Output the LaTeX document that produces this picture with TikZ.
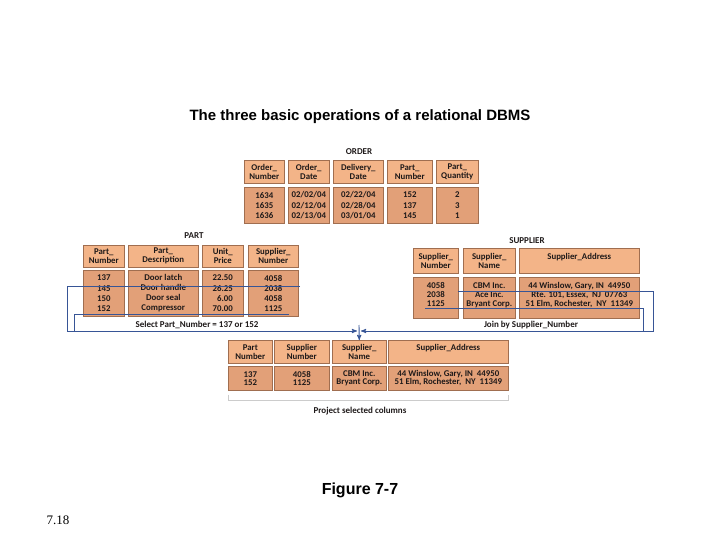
\documentclass[tikz,border=0pt]{standalone}
\usepackage{fontspec}
\setmainfont{Liberation Sans}
\newfontfamily\gillfam{Carlito}
\newfontfamily\timesfam{Liberation Serif}
\usepackage{xcolor}
\usetikzlibrary{arrows,positioning}
\definecolor{hdrfill}{RGB}{243,180,136}
\definecolor{datfill}{RGB}{226,160,120}
\definecolor{cellline}{RGB}{160,110,80}
\definecolor{joinblue}{RGB}{55,85,150}
\definecolor{celltext}{RGB}{30,25,25}
\newcommand\celllines{\lineskiplimit=-20pt\relax}
\tikzset{
>=stealth',
  cell/.style={
    rectangle,
    draw=cellline, line width=0.6pt,
    anchor=north west,
    inner sep=0pt,
    align=center,
    text=celltext,
    font=\gillfam\bfseries\fontsize{8.8}{9}\selectfont\celllines},
  hcell/.style={cell, fill=hdrfill},
  dcell/.style={cell, fill=datfill, font=\gillfam\bfseries\fontsize{8.8}{10.2}\selectfont\celllines},
  tabname/.style={text=celltext, font=\gillfam\bfseries\fontsize{9}{10}\selectfont},
  opline/.style={draw=joinblue, line width=0.9pt},
  oparrow/.style={opline, ->},
}

\begin{document}
\begin{tikzpicture}[x=1pt, y=-1pt]
    \useasboundingbox (0,0) rectangle (720,540);

    \node[font=\bfseries\fontsize{15}{18}\selectfont] (title) at (360,117) {The three basic operations of a relational DBMS};

    % ORDER
    \node[tabname] (ordname) at (359,152) {ORDER};
    \node[hcell, minimum width=40pt, minimum height=23pt] (ord1h) at (244,160) {Order\_\\Number};
    \node[hcell, minimum width=41pt, minimum height=23pt] (ord2h) at (288,160) {Order\_\\Date};
    \node[hcell, minimum width=50pt, minimum height=23pt] (ord3h) at (333,160) {Delivery\_\\Date};
    \node[hcell, minimum width=45pt, minimum height=23pt] (ord4h) at (387,160) {Part\_\\Number};
    \node[hcell, minimum width=42pt, minimum height=23pt] (ord5h) at (436,160) {Part\_\\Quantity};
    \node[dcell, minimum width=40pt, minimum height=36pt] (ord1d) at (244,187) {1634\\1635\\1636};
    \node[dcell, minimum width=41pt, minimum height=36pt] (ord2d) at (288,187) {02/02/04\\02/12/04\\02/13/04};
    \node[dcell, minimum width=50pt, minimum height=36pt] (ord3d) at (333,187) {02/22/04\\02/28/04\\03/01/04};
    \node[dcell, minimum width=45pt, minimum height=36pt] (ord4d) at (387,187) {152\\137\\145};
    \node[dcell, minimum width=42pt, minimum height=36pt] (ord5d) at (436,187) {2\\3\\1};

    % PART
    \node[tabname] (prtname) at (194,236) {PART};
    \node[hcell, minimum width=41pt, minimum height=22pt] (prt1h) at (83,245) {Part\_\\Number};
    \node[hcell, minimum width=70pt, minimum height=22pt] (prt2h) at (128,245) {Part\_\\Description};
    \node[hcell, minimum width=41pt, minimum height=22pt] (prt3h) at (202,245) {Unit\_\\Price};
    \node[hcell, minimum width=50pt, minimum height=22pt] (prt4h) at (248,245) {Supplier\_\\Number};
    \node[dcell, minimum width=41pt, minimum height=46pt] (prt1d) at (83,270) {137\\145\\150\\152};
    \node[dcell, minimum width=70pt, minimum height=46pt] (prt2d) at (128,270) {Door latch\\Door handle\\Door seal\\Compressor};
    \node[dcell, minimum width=41pt, minimum height=46pt, align=right] (prt3d) at (202,270) {22.50\\26.25\\6.00\\70.00};
    \node[dcell, minimum width=50pt, minimum height=46pt] (prt4d) at (248,270) {4058\\2038\\4058\\1125};

    % SUPPLIER
    \node[tabname] (supname) at (527,241) {SUPPLIER};
    \node[hcell, minimum width=45pt, minimum height=25pt] (sup1h) at (413,248) {Supplier\_\\Number};
    \node[hcell, minimum width=52pt, minimum height=25pt] (sup2h) at (463,248) {Supplier\_\\Name};
    \node[hcell, minimum width=120pt, minimum height=25pt] (sup3h) at (519,248) {Supplier\_Address\\\phantom{N}};
    \tikzset{supdata/.style={dcell, minimum height=41pt, font=\gillfam\bfseries\fontsize{8.8}{8.7}\selectfont\celllines}}
    \node[supdata, minimum width=45pt] (sup1d) at (413,277) {4058\\2038\\1125\\[-2pt]\mbox{}};
    \node[supdata, minimum width=52pt] (sup2d) at (463,277) {CBM Inc.\\Ace Inc.\\Bryant Corp.\\[-2pt]\mbox{}};
    \node[supdata, minimum width=120pt] (sup3d) at (519,277) {44 Winslow, Gary, IN\ \ 44950\\Rte. 101, Essex,\ \ NJ\ \ 07763\\51 Elm, Rochester,\ \ NY\ \ 11349\\[-2pt]\mbox{}};

    % result of the three operations
    \node[hcell, minimum width=44pt, minimum height=23pt] (res1h) at (228,340) {Part\\Number};
    \node[hcell, minimum width=55pt, minimum height=23pt] (res2h) at (274,340) {Supplier\\Number};
    \node[hcell, minimum width=54pt, minimum height=23pt] (res3h) at (332,340) {Supplier\_\\Name};
    \node[hcell, minimum width=120pt, minimum height=23pt] (res4h) at (388,340) {Supplier\_Address\\\phantom{N}};
    \tikzset{resdata/.style={dcell, minimum height=24pt, font=\gillfam\bfseries\fontsize{8.8}{8.2}\selectfont\celllines}}
    \node[resdata, minimum width=44pt] (res1d) at (228,366) {137\\152};
    \node[resdata, minimum width=55pt] (res2d) at (274,366) {4058\\1125};
    \node[resdata, minimum width=54pt] (res3d) at (332,366) {CBM Inc.\\Bryant Corp.};
    \node[resdata, minimum width=120pt] (res4d) at (388,366) {44 Winslow, Gary, IN\ \ 44950\\51 Elm, Rochester,\ \ NY\ \ 11349};

    % select, join and project
    \coordinate (sel137) at (300,286);
    \coordinate (sel152) at (289,314);
    \coordinate (join4058) at (458,291);
    \coordinate (join1125) at (425,308);
    \coordinate (meet) at (359,331);
    \draw[opline] (sel152) -- (74,314) -- (74,331);
    \draw[oparrow, shorten >=2pt] (sel137) -- (67,286) |- (meet);
    \draw[opline] (join1125) -- (643,308) -- (643,331);
    \draw[oparrow, shorten >=2pt] (join4058) -- (653,291) |- (meet);
    \draw[oparrow] (359,325) -- (res3h.north);
    \node[tabname] (sellbl) at (197,325) {Select Part\_Number = 137 or 152};
    \node[tabname] (joinlbl) at (531,325) {Join by Supplier\_Number};

    \draw[black!20, line width=0.6pt] ([yshift=-4pt]res1d.south west) -- ([yshift=-10pt]res1d.south west) -- ([yshift=-10pt]res4d.south east) -- ([yshift=-4pt]res4d.south east);
    \node[tabname] (projlbl) at (360,411) {Project selected columns};

    \node[font=\bfseries\fontsize{16}{19}\selectfont] (figlbl) at (360,490) {Figure 7-7};
    \node[font=\timesfam\fontsize{13}{15}\selectfont] (slideno) at (58,520) {7.18};
\end{tikzpicture}
\end{document}
